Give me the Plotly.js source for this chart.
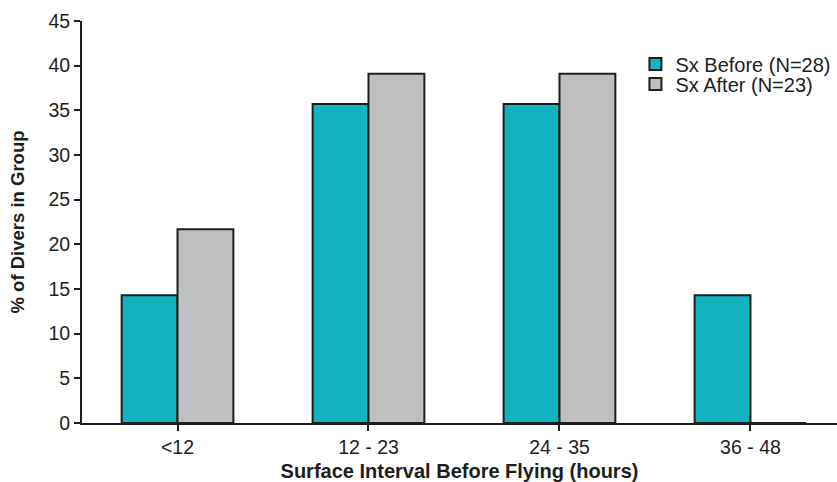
<!DOCTYPE html>
<html><head><meta charset="utf-8">
<script src="https://cdn.plot.ly/plotly-3.0.1.min.js"></script>
<style>html,body{margin:0;padding:0;background:#fff;}#chart{width:837px;height:482px;}</style>
</head><body><div id="chart"></div>
<script>
const categories = ["<12", "12 - 23", "24 - 35", "36 - 48"];
const sxBefore = [14.3, 35.7, 35.7, 14.3];
const sxAfter = [21.7, 39.1, 39.1, 0];
const seriesNames = ["Sx Before (N=28)", "Sx After (N=23)"];
const yTicks = [0, 5, 10, 15, 20, 25, 30, 35, 40, 45];

const font = "Liberation Sans, Arial, sans-serif";
const ink = "#1e1e1e";
const traces = [
  {type: "bar", name: seriesNames[0], x: [0,1,2,3], y: sxBefore, legend: "legend",
   marker: {color: "#12B3C0", line: {color: ink, width: 2}}},
  {type: "bar", name: seriesNames[1], x: [0,1,2,3], y: sxAfter, legend: "legend2",
   marker: {color: "#BEBFC1", line: {color: ink, width: 2}}}
];
const legendBase = {xanchor: "left", yanchor: "middle", x: 0.733,
  font: {family: font, size: 20, color: ink}, bgcolor: "rgba(0,0,0,0)", borderwidth: 0};
const layout = {
  width: 837, height: 482,
  margin: {l: 82, r: 0, t: 21, b: 59},
  paper_bgcolor: "#fff", plot_bgcolor: "#fff",
  barmode: "group", bargap: 0.415, bargroupgap: 0,
  font: {family: font, color: ink, size: 19},
  showlegend: true,
  legend: Object.assign({}, legendBase, {y: 0.893}),
  legend2: Object.assign({}, legendBase, {y: 0.843}),
  xaxis: {
    range: [-0.5, 3.453], tickmode: "array", tickvals: [0,1,2,3], ticktext: categories,
    ticks: "outside", ticklen: 6, tickwidth: 2, tickcolor: ink, tickson: "boundaries",
    showline: true, linecolor: ink, linewidth: 2, showgrid: false, zeroline: false,
    tickfont: {family: font, size: 19.5, color: ink},
    title: {text: "<b>Surface Interval Before Flying (hours)</b>", font: {family: font, size: 20, color: ink}, standoff: 11}
  },
  yaxis: {
    range: [0, 45], tickmode: "array", tickvals: yTicks,
    ticks: "outside", ticklen: 6, tickwidth: 2, tickcolor: ink,
    showline: true, linecolor: ink, linewidth: 2, showgrid: false, zeroline: false,
    tickfont: {family: font, size: 19.5, color: ink},
    title: {text: "<b>% of Divers in Group</b>", font: {family: font, size: 18.5, color: ink}, standoff: 19}
  }
};
Plotly.newPlot("chart", traces, layout, {displayModeBar: false, staticPlot: true});
</script></body></html>
